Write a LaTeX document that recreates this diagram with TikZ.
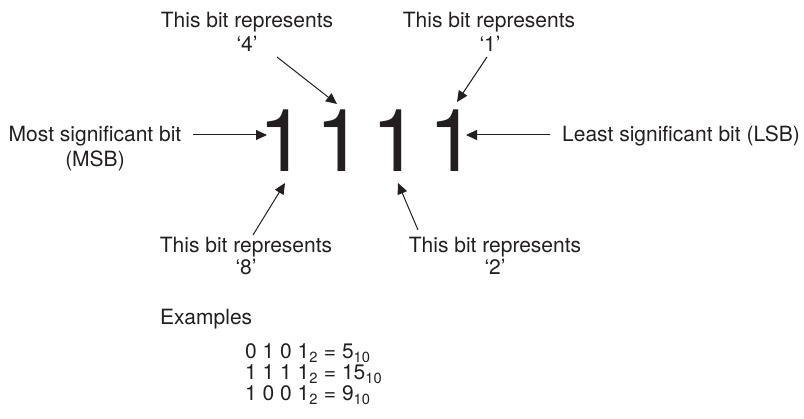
\documentclass[tikz,border=0pt]{standalone}
\usepackage{fontspec}
\setmainfont{TeX Gyre Heros}
\usetikzlibrary{arrows.meta}
\definecolor{ink}{HTML}{231F20}
\begin{document}
\begin{tikzpicture}[x=1pt,y=-1pt,
  lbl/.style={inner sep=0pt, anchor=base, font=\fontsize{21}{24}\selectfont, text=ink},
  big/.style={inner sep=0pt, font=\fontsize{87}{87}\selectfont, text=ink},
  arr/.style={draw=ink, line width=1pt, -{Triangle[length=11pt,width=10pt]}}]
\useasboundingbox (0,0) rectangle (804,419);

% big digits
\node[big] (d1) at (282.7,140.5) {1};
\node[big] (d2) at (339.2,140.5) {1};
\node[big] (d3) at (395.7,140.5) {1};
\node[big] (d4) at (452.7,140.5) {1};

% labels
\node[lbl] (t4a) at (247,27.5) {This bit represents};
\node[lbl] (t4b) at (247,52) {‘4’};
\node[lbl] (t1a) at (489,27.5) {This bit represents};
\node[lbl] (t1b) at (490,52) {‘1’};
\node[lbl] (msba) at (95,142) {Most significant bit};
\node[lbl] (msbb) at (95,166.5) {(MSB)};
\node[lbl, anchor=base west] (lsb) at (562,142) {Least significant bit (LSB)};
\node[lbl] (t8a) at (246,253) {This bit represents};
\node[lbl] (t8b) at (246,275) {‘8’};
\node[lbl] (t2a) at (495,253) {This bit represents};
\node[lbl] (t2b) at (495,275) {‘2’};

\node[lbl, anchor=base west] (ex) at (160,325) {Examples};
\node[lbl, anchor=base west] (e1) at (245,359) {0 1 0 1\textsubscript{2} = 5\textsubscript{10}};
\node[lbl, anchor=base west] (e2) at (245,380) {1 1 1 1\textsubscript{2} = 15\textsubscript{10}};
\node[lbl, anchor=base west] (e3) at (245,401) {1 0 0 1\textsubscript{2} = 9\textsubscript{10}};

% arrow end points
\coordinate (a4s) at (277,57);   \coordinate (a4e) at (337,104);
\coordinate (a1s) at (487,57);   \coordinate (a1e) at (457,102);
\coordinate (a8s) at (253,235);  \coordinate (a8e) at (285,183);
\coordinate (a2s) at (418,230);  \coordinate (a2e) at (398,183);
\coordinate (ams) at (193,135);  \coordinate (ame) at (267,135);
\coordinate (als) at (550,135);  \coordinate (ale) at (466,135);

\draw[arr] (a4s) -- (a4e);
\draw[arr] (a1s) -- (a1e);
\draw[arr] (a8s) -- (a8e);
\draw[arr] (a2s) -- (a2e);
\draw[arr] (ams) -- (ame);
\draw[arr] (als) -- (ale);
\end{tikzpicture}
\end{document}
